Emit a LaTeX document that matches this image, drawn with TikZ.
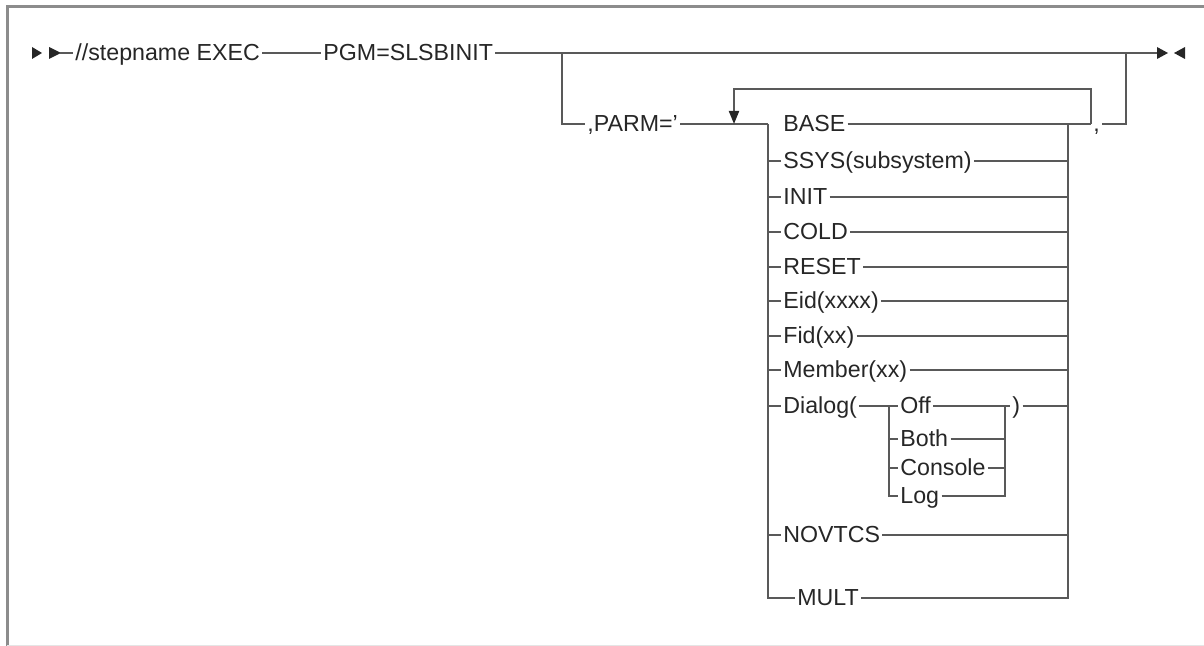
\documentclass[tikz,border=0pt]{standalone}
\usepackage{fontspec}
\setmainfont{Liberation Sans}
\usetikzlibrary{positioning,arrows.meta}

\begin{document}
\begin{tikzpicture}[
  x=0.5pt, y=-0.5pt,
  font=\fontsize{11.6}{13}\selectfont,
  item/.style={anchor=west, inner sep=1pt, text height=0.72em, text depth=0pt, text=black!85},
  edge/.style={draw=black!65, line width=1pt},
  tip/.style={fill=black!85}
]
\useasboundingbox (0,0) rectangle (1204,646);
% frame
\draw[black!45, line width=1.5pt] (7,646) -- (7,7) -- (1204,7);
\draw[black!10, line width=0.5pt] (7,645) -- (1204,645);

% main line
\fill[tip] (32,47) -- (42,53) -- (32,59) -- cycle;
\fill[tip] (49,47) -- (61,53) -- (49,59) -- cycle;
\coordinate (in) at (60,53);
\node[item] (exec) at (73,53) {//stepname EXEC};
\node[item] (pgm) at (321,53) {PGM=SLSBINIT};
\coordinate (br) at (562,53);
\coordinate (ex) at (1126,53);
\coordinate (out) at (1158,53);
\draw[edge] (in) -- (exec);
\draw[edge] (exec) -- (pgm);
\draw[edge] (pgm) -- (out);
\fill[tip] (1157,47) -- (1168,53) -- (1157,59) -- cycle;
\fill[tip] (1185,47) -- (1174,53) -- (1185,59) -- cycle;

% PARM branch
\node[item] (parm) at (585,124) {,PARM='};
\coordinate (loop) at (734,124);
\coordinate (cl) at (768,124);
\coordinate (cr) at (1068,124);
\coordinate (rp) at (1091,124);
\node[item] (comma) at (1091,124) {,};
\draw[edge] (br) |- (parm);
\draw[edge] (parm) -- (cl);
\draw[edge, -{Triangle[length=6.5pt,width=5pt,color=black!85]}] (rp) -- ++(0,-35) -| (loop);
\draw[edge] (comma) -| (ex);

% choices
\node[item] (base) at (781,124) {BASE};
\node[item] (ssys) at (781,161) {SSYS(subsystem)};
\node[item] (init) at (781,197) {INIT};
\node[item] (cold) at (781,232) {COLD};
\node[item] (reset) at (781,267) {RESET};
\node[item] (eid) at (781,301) {Eid(xxxx)};
\node[item] (fid) at (781,336) {Fid(xx)};
\node[item] (memb) at (781,370) {Member(xx)};
\node[item] (dlg) at (781,406) {Dialog(};
\node[item] (novtcs) at (781,535) {NOVTCS};
\node[item] (mult) at (795,598) {MULT};

\draw[edge] (cl) |- (mult);
\draw[edge] (mult) -| (cr);
\draw[edge] (base) -- (rp);
\draw[edge] (cl |- ssys) -- (ssys) -- (cr |- ssys);
\draw[edge] (cl |- init) -- (init) -- (cr |- init);
\draw[edge] (cl |- cold) -- (cold) -- (cr |- cold);
\draw[edge] (cl |- reset) -- (reset) -- (cr |- reset);
\draw[edge] (cl |- eid) -- (eid) -- (cr |- eid);
\draw[edge] (cl |- fid) -- (fid) -- (cr |- fid);
\draw[edge] (cl |- memb) -- (memb) -- (cr |- memb);
\draw[edge] (cl |- novtcs) -- (novtcs) -- (cr |- novtcs);

% Dialog options
\coordinate (dl) at (889,406);
\coordinate (dr) at (1005,406);
\node[item] (off) at (898,406) {Off};
\node[item] (both) at (898,439) {Both};
\node[item] (cons) at (898,468) {Console};
\node[item] (log) at (898,496) {Log};
\node[item] (rpar) at (1010,406) {)};

\draw[edge] (cl |- dlg) -- (dlg) -- (dl) |- (log);
\draw[edge] (dl) -- (off) -- (dr);
\draw[edge] (dl |- both) -- (both) -- (dr |- both);
\draw[edge] (dl |- cons) -- (cons) -- (dr |- cons);
\draw[edge] (log) -| (dr) -- (rpar) -- (cr |- rpar);
\end{tikzpicture}
\end{document}
